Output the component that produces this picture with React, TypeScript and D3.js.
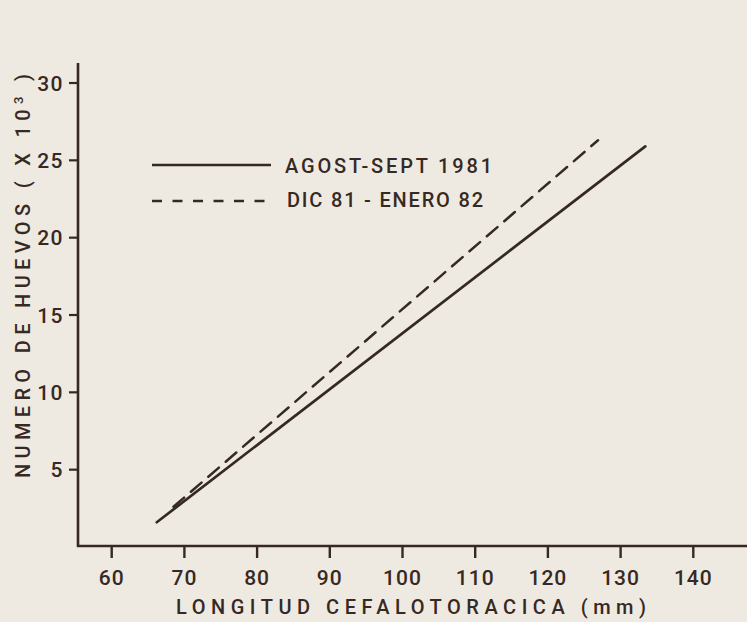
import React from "react";
import * as d3 from "d3";

const xTicks = [60, 70, 80, 90, 100, 110, 120, 130, 140];
const yTicks = [5, 10, 15, 20, 25, 30];
const seriesNames = ["AGOST-SEPT 1981", "DIC 81 - ENERO 82"];
const solidX = [66.2, 133.4];
const solidY = [1.6, 25.9];
const dashedX = [68.5, 126.9];
const dashedY = [2.6, 26.3];

const W = 747;
const H = 622;
const BG = "#efeae1";
const INK = "#362924";
const FONT = "Roboto, 'Liberation Sans', Arial, sans-serif";

export default function App() {
  const x = d3.scaleLinear().domain([60, 140]).range([111.7, 693.3]);
  const y = d3.scaleLinear().domain([0, 30]).range([547, 83]);
  const line = d3
    .line<[number, number]>()
    .x((d) => x(d[0]))
    .y((d) => y(d[1]));
  const solid = solidX.map((v, i) => [v, solidY[i]] as [number, number]);
  const dashed = dashedX.map((v, i) => [v, dashedY[i]] as [number, number]);
  const axisX = 78;
  const axisY = 546;

  return (
    <svg
      width={W}
      height={H}
      style={{ position: "absolute", left: 0, top: 0, background: BG }}
      fontFamily={FONT}
      fontWeight={500}
    >
      <rect x={0} y={0} width={W} height={H} fill={BG} />
      {/* axes */}
      <line x1={axisX} y1={63} x2={axisX} y2={axisY + 1} stroke={INK} strokeWidth={2.6} />
      <line x1={axisX - 1} y1={axisY} x2={W} y2={axisY} stroke={INK} strokeWidth={2.6} />
      {yTicks.map((t) => (
        <g key={"y" + t}>
          <line x1={axisX - 9} x2={axisX} y1={y(t)} y2={y(t)} stroke={INK} strokeWidth={2.2} />
          <text
            x={64}
            y={y(t) + 7.5}
            textAnchor="end"
            fontSize={21}
            fill={INK}
            letterSpacing={1.5}
          >
            {t}
          </text>
        </g>
      ))}
      {xTicks.map((t) => (
        <g key={"x" + t}>
          <line x1={x(t)} x2={x(t)} y1={axisY} y2={axisY + 12} stroke={INK} strokeWidth={2.4} />
          <text x={x(t)} y={585} textAnchor="middle" fontSize={21} fill={INK} letterSpacing={1}>
            {t}
          </text>
        </g>
      ))}
      {/* data */}
      <path d={line(solid) || ""} fill="none" stroke={INK} strokeWidth={2.7} strokeLinecap="round" />
      <path
        d={line(dashed) || ""}
        fill="none"
        stroke={INK}
        strokeWidth={2.5}
        strokeDasharray="14 9"
        strokeLinecap="round"
      />
      {/* legend */}
      <line x1={152} x2={271} y1={165} y2={165} stroke={INK} strokeWidth={2.5} />
      <text x={285} y={173} fontSize={20} fill={INK} textLength={207} lengthAdjust="spacing">
        {seriesNames[0]}
      </text>
      <line
        x1={152}
        x2={272}
        y1={201}
        y2={201}
        stroke={INK}
        strokeWidth={2.5}
        strokeDasharray="10 10.5"
      />
      <text x={287} y={207} fontSize={20} fill={INK} textLength={196} lengthAdjust="spacing">
        {seriesNames[1]}
      </text>
      {/* axis titles */}
      <text x={176} y={614} fontSize={20} fill={INK} textLength={470} lengthAdjust="spacing">
        LONGITUD  CEFALOTORACICA (mm)
      </text>
      <text
        transform="translate(30,478) rotate(-90)"
        x={0}
        y={0}
        fontSize={20}
        fill={INK}
        textLength={404}
        lengthAdjust="spacing"
      >
        NUMERO  DE  HUEVOS  ( X 10
        <tspan dy={-7} fontSize={13}>3</tspan>
        <tspan dy={7}> )</tspan>
      </text>
    </svg>
  );
}
